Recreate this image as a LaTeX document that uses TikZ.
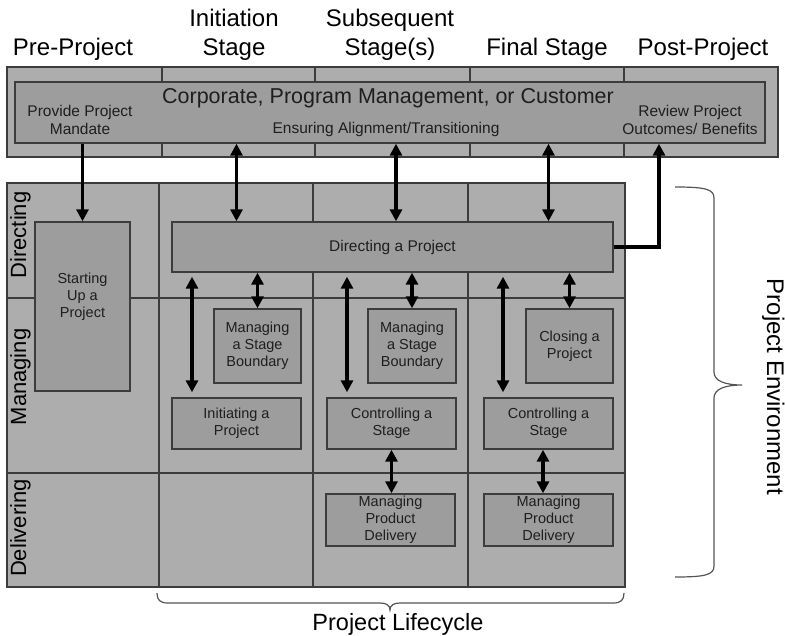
\documentclass[tikz,border=0pt]{standalone}
\usepackage{fontspec}
\setmainfont{Liberation Sans}
\usetikzlibrary{arrows.meta}
\definecolor{bandgray}{HTML}{ADADAD}
\definecolor{boxgray}{HTML}{9D9D9D}
\definecolor{edgegray}{HTML}{3C3C3C}
\definecolor{bracegray}{HTML}{555555}
\definecolor{inkgray}{HTML}{1E1E1E}
\newcommand\fsz[2]{\fontsize{#1}{#2}\selectfont}
\tikzset{
  band/.style={fill=bandgray, draw=edgegray, line width=1.3pt},
  gridline/.style={draw=edgegray, line width=1.1pt},
  procbox/.style={draw=edgegray, fill=boxgray, line width=1.4pt, inner sep=0pt,
    align=center, font=\fsz{14.5}{17}, text=inkgray},
  flow/.style={line width=3.4pt, -{Triangle[length=12pt,width=12pt]}},
  twoway/.style={line width=3.4pt,
    {Triangle[length=12pt,width=12pt]}-{Triangle[length=12pt,width=12pt]}},
  head/.style={font=\fsz{24}{29}, align=center, anchor=base, inner sep=0pt},
  rowlabel/.style={font=\fsz{22}{26}, rotate=90, anchor=base, inner sep=0pt},
  bandtext/.style={font=\fsz{15.5}{18}, align=center, anchor=base, inner sep=0pt, text=inkgray},
  bracepath/.style={draw=bracegray, line width=1.2pt},
}
\begin{document}
\begin{tikzpicture}[x=1pt,y=-1pt]
\useasboundingbox (0,0) rectangle (785,635);

% stage headings (anchored on the baseline of their last line)
\node[head] (hpre)  at (73,55)  {Pre-Project};
\node[head] (hini)  at (234,55) {Initiation\\Stage};
\node[head] (hsub)  at (390,55) {Subsequent\\Stage(s)};
\node[head] (hfin)  at (547,55) {Final Stage};
\node[head] (hpost) at (703,55) {Post-Project};

% corporate band
\draw[band] (7,67) rectangle (778,157);
\foreach \x in {162,315,470,624} \draw[gridline] (\x,67) -- (\x,157);
\node[procbox, minimum width=750pt, minimum height=61pt] (corp) at (390,112.5) {};
\node[font=\fsz{21.5}{26}, anchor=base, inner sep=0pt, text=inkgray] (corptitle) at (388,103)
  {Corporate, Program Management, or Customer};
\node[bandtext] (mandate) at (80,134) {Provide Project\\Mandate};
\node[bandtext] (align) at (386,133) {Ensuring Alignment/Transitioning};
\node[bandtext] (review) at (690,134) {Review Project\\Outcomes/ Benefits};

% project grid
\draw[band] (7,183) rectangle (625,587);
\foreach \x in {159,313,468} \draw[gridline] (\x,183) -- (\x,587);
\foreach \y in {298,473} \draw[gridline] (7,\y) -- (625,\y);

\node[rowlabel] (ldir) at (26,235) {Directing};
\node[rowlabel] (lman) at (26,377) {Managing};
\node[rowlabel] (ldel) at (26,528) {Delivering};

% processes
\node[procbox, minimum width=95pt, minimum height=169pt] (su) at (82.5,306.5) {};
\node[font=\fsz{14.5}{17}, align=center, inner sep=0pt, text=inkgray] (sutext) at (82.5,297)
  {Starting\\Up a\\Project};
\node[procbox, minimum width=441pt, minimum height=50pt, font=\fsz{15.5}{18}] (dir) at (392.5,247) {Directing a Project};
\node[procbox, minimum width=87pt, minimum height=74pt] (msbA) at (257.5,346) {Managing\\a Stage\\Boundary};
\node[procbox, minimum width=129pt, minimum height=51pt] (init) at (236.5,423.5) {Initiating a\\Project};
\node[procbox, minimum width=88pt, minimum height=74pt] (msbB) at (412,346) {Managing\\a Stage\\Boundary};
\node[procbox, minimum width=129pt, minimum height=51pt] (ctlB) at (391.5,423.5) {Controlling a\\Stage};
\node[procbox, minimum width=87pt, minimum height=74pt] (close) at (569.5,346) {Closing a\\Project};
\node[procbox, minimum width=129pt, minimum height=51pt] (ctlC) at (548.5,423.5) {Controlling a\\Stage};
\node[procbox, minimum width=129pt, minimum height=52pt] (mpdB) at (390.5,520) {Managing\\Product\\Delivery};
\node[procbox, minimum width=129pt, minimum height=52pt] (mpdC) at (548.5,520) {Managing\\Product\\Delivery};

% connector columns
\coordinate (xsub) at (396,0);
\coordinate (xpost) at (659,0);
\coordinate (xiniL) at (192,0);
\coordinate (xsubL) at (347,0);
\coordinate (xfinL) at (503,0);
\coordinate (xfinD) at (543,0);

% links to the corporate band
\draw[flow] (corp.south -| su.north) -- (su.north);
\draw[twoway] (dir.north -| init.north) -- (corp.south -| init.north);
\draw[twoway] (dir.north -| xsub) -- (corp.south -| xsub);
\draw[twoway] (dir.north -| ctlC.north) -- (corp.south -| ctlC.north);
\draw[flow] (dir.east) -- (dir.east -| xpost) -- (corp.south -| xpost);

% links between directing and managing
\draw[twoway, shorten <=4pt, shorten >=5pt] (dir.south -| xiniL) -- (init.north -| xiniL);
\draw[twoway] (dir.south -| msbA.north) -- (msbA.north);
\draw[twoway, shorten <=4pt, shorten >=5pt] (dir.south -| xsubL) -- (ctlB.north -| xsubL);
\draw[twoway] (dir.south -| msbB.north) -- (msbB.north);
\draw[twoway, shorten <=4pt, shorten >=5pt] (dir.south -| xfinL) -- (ctlC.north -| xfinL);
\draw[twoway] (dir.south -| close.north) -- (close.north);

% links between managing and delivering
\draw[twoway] (ctlB.south) -- (ctlB.south |- mpdB.north);
\draw[twoway] (ctlC.south -| xfinD) -- (mpdC.north -| xfinD);

% braces
\draw[bracepath] (675,187) .. controls (705,187) and (714,189) .. (714,198) -- (714,372)
  .. controls (714,381) and (725,385) .. (742,385)
  .. controls (725,385) and (714,389) .. (714,398) -- (714,566)
  .. controls (714,575) and (705,577) .. (675,577);
\node[font=\fsz{24}{29}, rotate=-90, anchor=base, inner sep=0pt] (env) at (767,387) {Project Environment};

\draw[bracepath] (157,593) .. controls (157,600) and (160,603) .. (168,603) -- (380,603)
  .. controls (386,603) and (390,605) .. (390,610)
  .. controls (390,605) and (394,603) .. (400,603) -- (613,603)
  .. controls (621,603) and (624,600) .. (624,593);
\node[font=\fsz{23.5}{28}, anchor=base, inner sep=0pt] (life) at (398,630) {Project Lifecycle};
\end{tikzpicture}
\end{document}
